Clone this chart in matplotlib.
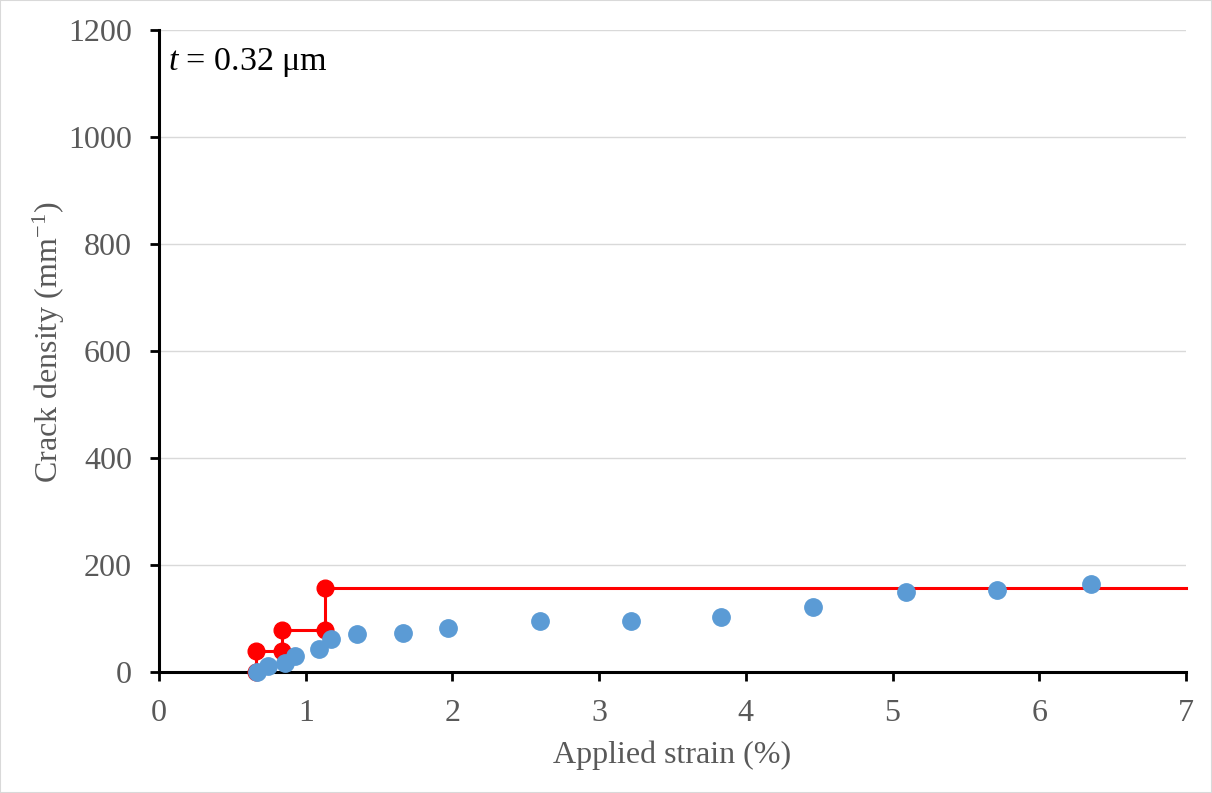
import matplotlib
matplotlib.use("Agg")
import matplotlib.pyplot as plt

# Experimental data (blue)
strain_exp = [0.67, 0.74, 0.86, 0.93, 1.09, 1.17, 1.35, 1.66, 1.97, 2.60, 3.22, 3.83, 4.46, 5.09, 5.71, 6.35]
density_exp = [0, 11, 17, 30, 43, 62, 71, 73, 82, 95, 95, 103, 121, 150, 153, 164]

# Model step curve (red)
strain_model = [0.66, 0.66, 0.84, 0.84, 1.13, 1.13, 7.0]
density_model = [0, 39, 39, 78, 78, 157, 157]
strain_model_pts = [0.66, 0.66, 0.84, 0.84, 1.13, 1.13]
density_model_pts = [0, 39, 39, 78, 78, 157]

x_ticks = [0, 1, 2, 3, 4, 5, 6, 7]
y_ticks = [0, 200, 400, 600, 800, 1000, 1200]

plt.rcParams['font.family'] = ['Liberation Serif', 'DejaVu Serif']
plt.rcParams['mathtext.fontset'] = 'custom'
plt.rcParams['mathtext.it'] = 'Liberation Serif:italic'
plt.rcParams['mathtext.rm'] = 'Liberation Serif'

fig = plt.figure(figsize=(12.12, 7.93), dpi=100)
ax = fig.add_axes([0.1312, 0.1526, 0.8473, 0.8096])

ax.set_xlim(0, 7)
ax.set_ylim(0, 1200)
ax.set_xticks(x_ticks)
ax.set_yticks(y_ticks)

ax.grid(axis='y', color='#d9d9d9', linewidth=1.0)
ax.set_axisbelow(True)

ax.plot(strain_model, density_model, color='#ff0000', linewidth=2.2, zorder=3, clip_on=False)
ax.plot(strain_model_pts, density_model_pts, linestyle='none', marker='o', markersize=12,
        color='#ff0000', zorder=4, clip_on=False)
ax.plot(strain_exp, density_exp, linestyle='none', marker='o', markersize=12.5,
        color='#5b9bd5', zorder=5, clip_on=False)

for s in ['top', 'right']:
    ax.spines[s].set_visible(False)
for s in ['left', 'bottom']:
    ax.spines[s].set_linewidth(2.2)
    ax.spines[s].set_color('black')

ax.tick_params(axis='both', direction='out', length=6.5, width=2, color='black',
               labelsize=23, labelcolor='#595959')
ax.tick_params(axis='x', pad=13)
ax.tick_params(axis='y', pad=13)

ax.set_xlabel('Applied strain (%)', fontsize=23, color='#595959')
ax.set_ylabel('Crack density (mm$^{-1}$)', fontsize=23, color='#595959')
ax.xaxis.set_label_coords(0.5, -0.107)
ax.yaxis.set_label_coords(-0.09, 0.513)

ax.text(0.06, 1140, r'$t$ = 0.32 μm', fontsize=24.5, color='black', va='center', ha='left')

fig.patches.append(plt.Rectangle((0, 0), 1, 1, transform=fig.transFigure, fill=False,
                                 edgecolor='#d9d9d9', linewidth=1.5))

fig.savefig('out.png', dpi=100)
